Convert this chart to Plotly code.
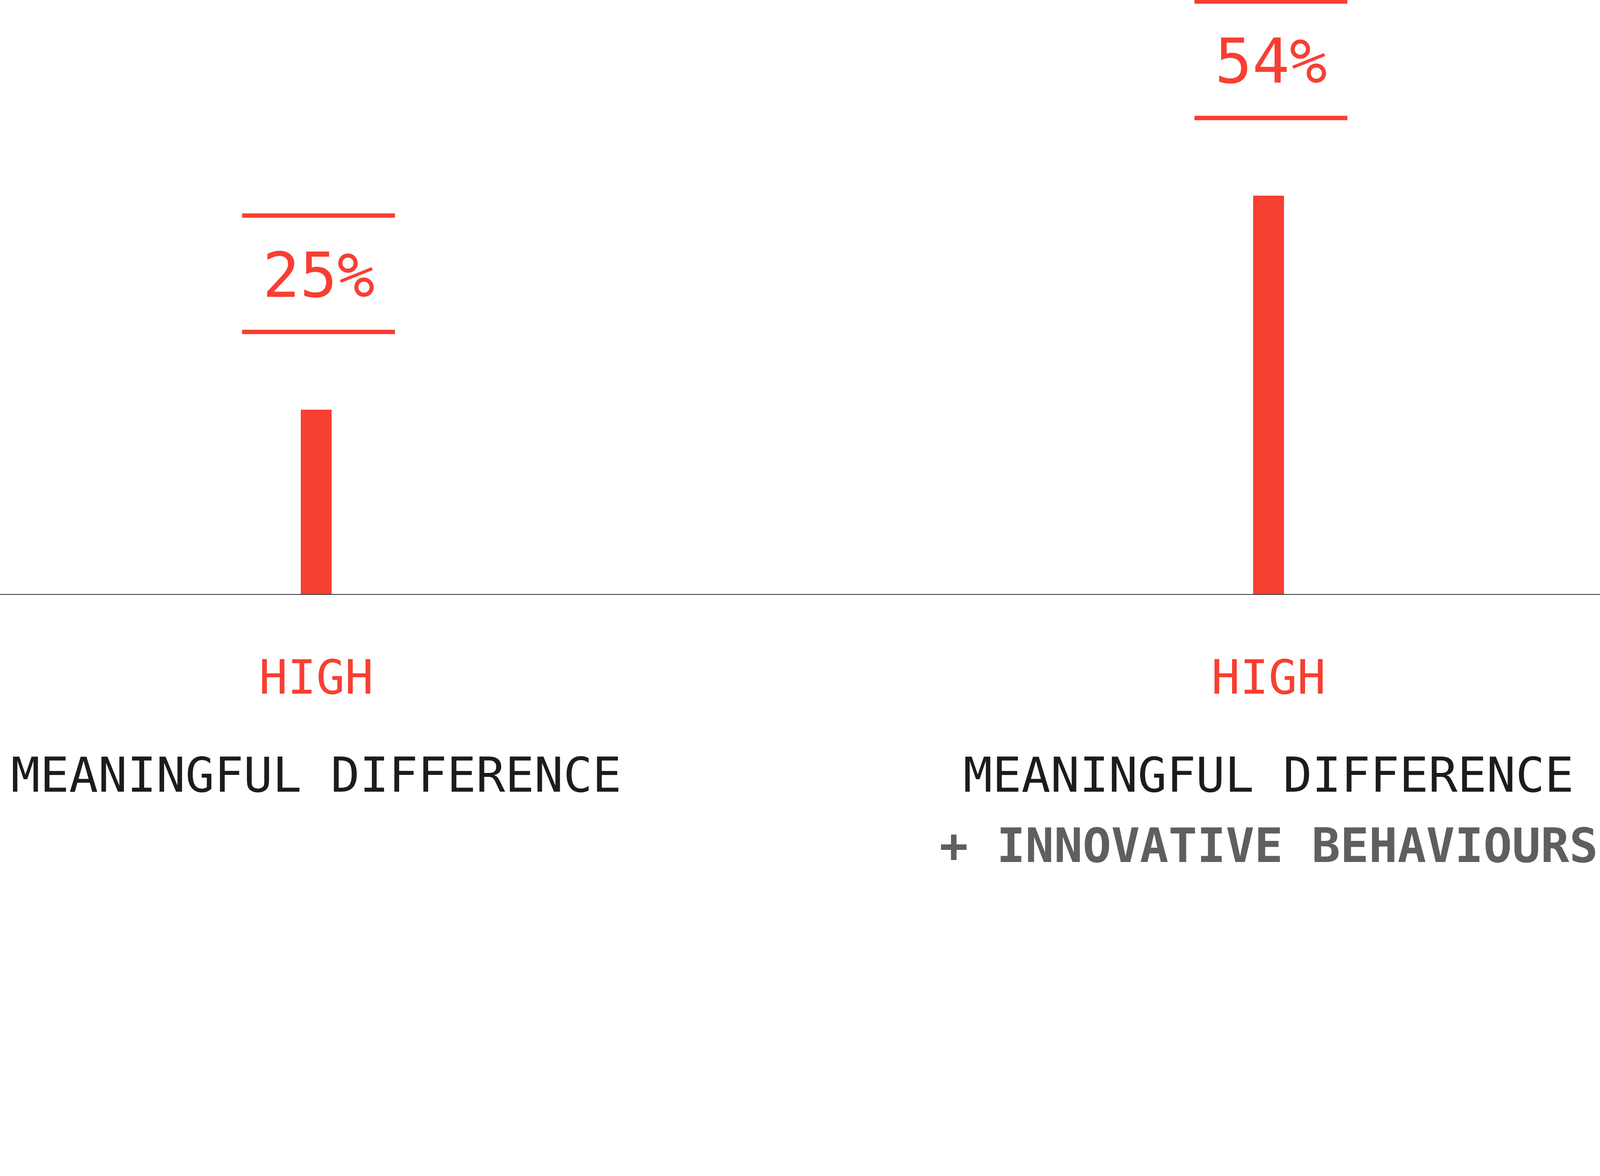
import plotly.graph_objects as go

# ---- data ----
categories = ["HIGH MEANINGFUL DIFFERENCE", "HIGH MEANINGFUL DIFFERENCE + INNOVATIVE BEHAVIOURS"]
values = [25, 54]
value_labels = ["25%", "54%"]
level_labels = ["HIGH", "HIGH"]
line1_labels = ["MEANINGFUL DIFFERENCE", "MEANINGFUL DIFFERENCE"]
line2_labels = ["", "+ INNOVATIVE BEHAVIOURS"]

RED = "#F73F32"
BLACK = "#1c1c1c"
GRAY = "#5f5f5f"
FONT = "DejaVu Sans Mono"

# The page is viewed at a CSS viewport of about 4096 px wide (device scale ~1.339)
S = 4096 / 5484
W, H = 4096, round(3011 * S)


def px(v):
    return v * S


positions = list(range(len(categories)))

fig = go.Figure()
fig.add_trace(go.Bar(
    x=positions, y=values, width=0.0325,
    marker=dict(color=RED, line=dict(width=0)),
    hoverinfo="skip", showlegend=False,
))

shapes = []
annotations = []
for i, (v, vl) in enumerate(zip(values, value_labels)):
    for off in (266, 665):
        shapes.append(dict(
            type="line", xref="x", yref="y",
            xsizemode="pixel", ysizemode="pixel",
            xanchor=positions[i], yanchor=v,
            x0=px(-254), x1=px(270), y0=px(off), y1=px(off),
            line=dict(color=RED, width=px(15)),
        ))
    annotations.append(dict(
        x=positions[i], y=v, xref="x", yref="y", text=vl, showarrow=False,
        xanchor="center", yanchor="middle", yshift=px(460), xshift=px(8),
        font=dict(family=FONT, size=px(213), color=RED),
    ))
    annotations.append(dict(
        x=positions[i], y=0, xref="x", yref="y", text=level_labels[i], showarrow=False,
        xanchor="center", yanchor="middle", yshift=px(-285),
        font=dict(family=FONT, size=px(163), color=RED),
    ))
    annotations.append(dict(
        x=positions[i], y=0, xref="x", yref="y", text=line1_labels[i], showarrow=False,
        xanchor="center", yanchor="middle", yshift=px(-620),
        font=dict(family=FONT, size=px(165.5), color=BLACK),
    ))
    if line2_labels[i]:
        annotations.append(dict(
            x=positions[i], y=0, xref="x", yref="y", text="<b>" + line2_labels[i] + "</b>",
            showarrow=False, xanchor="center", yanchor="middle", yshift=px(-862),
            font=dict(family=FONT, size=px(163), color=GRAY),
        ))

fig.update_layout(
    width=W, height=H,
    margin=dict(l=0, r=0, t=0, b=px(975), pad=0),
    paper_bgcolor="white", plot_bgcolor="white",
    shapes=shapes, annotations=annotations,
    xaxis=dict(range=[-0.332, 1.348], showgrid=False, zeroline=False,
               showticklabels=False, ticks="", showline=True,
               linecolor="#2e2e2e", linewidth=px(3), fixedrange=True),
    yaxis=dict(range=[0, 80.5], showgrid=False, zeroline=False,
               showticklabels=False, ticks="", showline=False, fixedrange=True),
    bargap=0,
)

fig.write_html("out.html", config={"displayModeBar": False},
               post_script="document.body.style.margin='0';document.body.style.overflow='hidden';")
